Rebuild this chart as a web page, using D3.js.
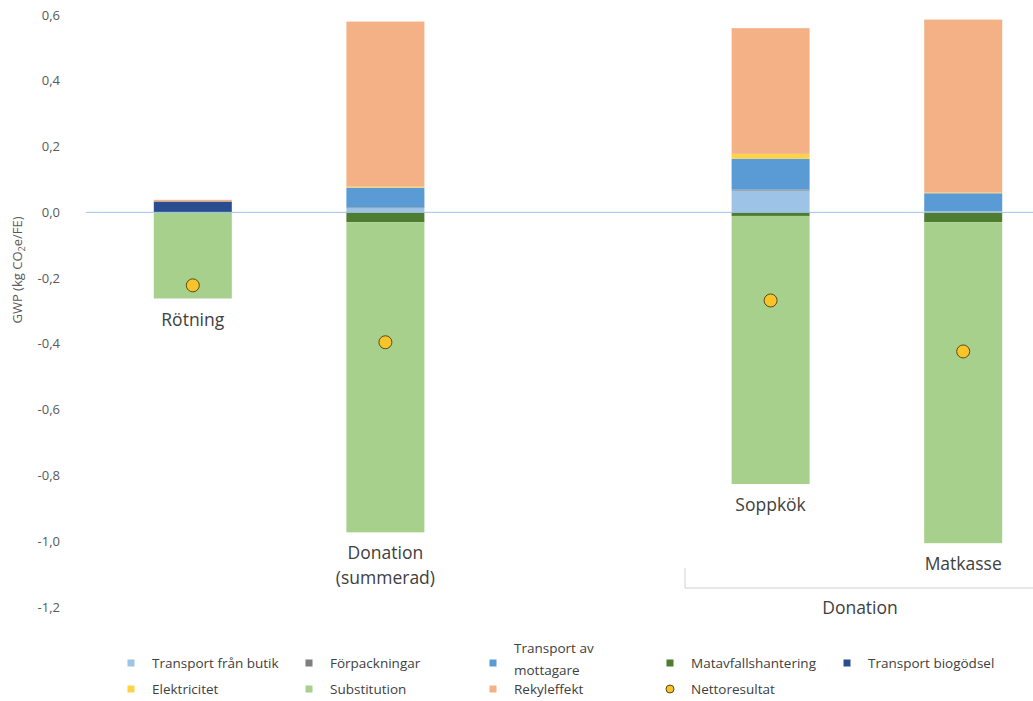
<!DOCTYPE html>
<html>
<head>
<meta charset="utf-8">
<script src="https://cdn.jsdelivr.net/npm/d3@7"></script>
<style>
  body { margin: 0; background: #fff; }
  svg { font-family: "Open Sans", Lato, sans-serif; }
</style>
</head>
<body>
<div id="chart"></div>
<script>
// Slots on the x axis (empty slot between the two groups)
const slots = ["Rötning", "Donation (summerad)", "gap", "Soppkök", "Matkasse"];
const categories = ["Rötning", "Donation (summerad)", "Soppkök", "Matkasse"];
const categoryLabels = [["Rötning"], ["Donation", "(summerad)"], ["Soppkök"], ["Matkasse"]];

const seriesNames = [
  "Transport från butik", "Förpackningar", "Transport av mottagare",
  "Matavfallshantering", "Transport biogödsel", "Elektricitet",
  "Substitution", "Rekyleffekt"
];
const seriesColors = [
  "#9dc3e6", "#7f7f7f", "#5b9bd5", "#4e7d32", "#2a4d8f", "#ffd24a",
  "#a6d08b", "#f3b185"
];

// values per category (same order as categories)
const transportFranButik = [0.0, 0.013, 0.066, 0.003];
const forpackningar      = [0.0, 0.002, 0.003, 0.0];
const transportMottagare = [0.0, 0.060, 0.094, 0.055];
const matavfall          = [0.0, -0.030, -0.011, -0.030];
const transportBiogodsel = [0.033, 0.0, 0.0, 0.0];
const elektricitet       = [0.0, 0.003, 0.015, 0.002];
const substitution       = [-0.262, -0.943, -0.815, -0.976];
const rekyleffekt        = [0.005, 0.502, 0.382, 0.526];
const nettoresultat      = [-0.222, -0.395, -0.268, -0.423];

const yTicks = [0.6, 0.4, 0.2, 0.0, -0.2, -0.4, -0.6, -0.8, -1.0, -1.2];

const seriesValues = [
  transportFranButik, forpackningar, transportMottagare, matavfall,
  transportBiogodsel, elektricitet, substitution, rekyleffekt
];

const table = categories.map((c, i) => {
  const row = { category: c, net: nettoresultat[i] };
  seriesNames.forEach((s, j) => (row[s] = seriesValues[j][i]));
  return row;
});

const W = 1033, H = 701;
const svg = d3.select("#chart").append("svg")
  .attr("width", W).attr("height", H);

const y = d3.scaleLinear().domain([-1.2, 0.6]).range([607, 15]);
const x = d3.scaleBand().domain(slots).range([96.5, 1059.5]);
const barW = 78;

const stack = d3.stack().keys(seriesNames).offset(d3.stackOffsetDiverging);
const stacked = stack(table);

const barCenter = cat => x(cat) + x.bandwidth() / 2;

// y axis tick labels
svg.append("g").selectAll("text").data(yTicks).join("text")
  .attr("x", 60).attr("y", d => y(d))
  .attr("dy", "0.35em")
  .attr("text-anchor", "end")
  .attr("font-size", 13)
  .attr("fill", "#595959")
  .text(d => d3.format(".1f")(d).replace(".", ",").replace("−", "-"));

// y title
const yt = svg.append("text")
  .attr("transform", "translate(22,270) rotate(-90)")
  .attr("text-anchor", "middle")
  .attr("font-size", 13)
  .attr("fill", "#595959");
yt.append("tspan").text("GWP (kg CO");
yt.append("tspan").attr("font-size", 9).attr("dy", 3).text("2");
yt.append("tspan").attr("dy", -3).text("e/FE)");

// stacked bars
svg.append("g").selectAll("g").data(stacked).join("g")
  .attr("fill", (d, i) => seriesColors[i])
  .selectAll("rect").data(d => d).join("rect")
  .attr("x", d => barCenter(d.data.category) - barW / 2)
  .attr("width", barW)
  .attr("y", d => y(Math.max(d[0], d[1])))
  .attr("height", d => Math.abs(y(d[0]) - y(d[1])));

// zero line
svg.append("line")
  .attr("x1", 86).attr("x2", W)
  .attr("y1", y(0)).attr("y2", y(0))
  .attr("stroke", "#9dc3e6").attr("stroke-width", 1);

// net result markers
svg.append("g").selectAll("circle").data(table).join("circle")
  .attr("cx", d => barCenter(d.category))
  .attr("cy", d => y(d.net))
  .attr("r", 6.5)
  .attr("fill", "#f8c42a")
  .attr("stroke", "#5a4a1a")
  .attr("stroke-width", 1);

// category labels under each bar
const bottoms = table.map(d => d3.sum(seriesNames, s => Math.min(0, d[s])));
svg.append("g").selectAll("text").data(table).join("text")
  .attr("x", d => barCenter(d.category))
  .attr("y", (d, i) => y(bottoms[i]) + 27)
  .attr("text-anchor", "middle")
  .attr("font-size", 17.5)
  .attr("fill", "#404040")
  .each(function (d, i) {
    d3.select(this).selectAll("tspan").data(categoryLabels[i]).join("tspan")
      .attr("x", barCenter(d.category))
      .attr("dy", (t, k) => (k === 0 ? 0 : 25))
      .text(t => t);
  });

// group bracket for Donation
const gx0 = 685;
svg.append("path")
  .attr("d", `M${gx0},568V588H${W}`)
  .attr("fill", "none").attr("stroke", "#d0d0d0").attr("stroke-width", 1);
svg.append("text")
  .attr("x", 860).attr("y", 614)
  .attr("text-anchor", "middle")
  .attr("font-size", 17.5).attr("fill", "#404040")
  .text("Donation");

// legend
const legendItems = [
  { name: "Transport från butik", col: 0, row: 0 },
  { name: "Förpackningar", col: 1, row: 0 },
  { name: "Transport av mottagare", col: 2, row: 0, lines: ["Transport av", "mottagare"] },
  { name: "Matavfallshantering", col: 3, row: 0 },
  { name: "Transport biogödsel", col: 4, row: 0 },
  { name: "Elektricitet", col: 0, row: 1 },
  { name: "Substitution", col: 1, row: 1 },
  { name: "Rekyleffekt", col: 2, row: 1 },
  { name: "Nettoresultat", col: 3, row: 1, dot: true }
];
const legendColX = [131, 309, 493, 670, 847];
const legendRowY = [663, 689];

const lg = svg.append("g").attr("font-size", 13.5).attr("fill", "#404040");
legendItems.forEach(it => {
  const mx = legendColX[it.col], my = legendRowY[it.row];
  if (it.dot) {
    lg.append("circle").attr("cx", mx).attr("cy", my).attr("r", 4)
      .attr("fill", "#f8c42a").attr("stroke", "#5a4a1a").attr("stroke-width", 1);
  } else {
    lg.append("rect").attr("x", mx - 3.5).attr("y", my - 3.5)
      .attr("width", 7).attr("height", 7)
      .attr("fill", seriesColors[seriesNames.indexOf(it.name)]);
  }
  const t = lg.append("text").attr("x", mx + 21).attr("y", my).attr("dy", "0.35em");
  if (it.lines) {
    t.attr("y", 648);
    it.lines.forEach((l, k) => t.append("tspan").attr("x", mx + 21).attr("dy", k === 0 ? "0.35em" : 22).text(l));
  } else {
    t.text(it.name);
  }
});
</script>
</body>
</html>
